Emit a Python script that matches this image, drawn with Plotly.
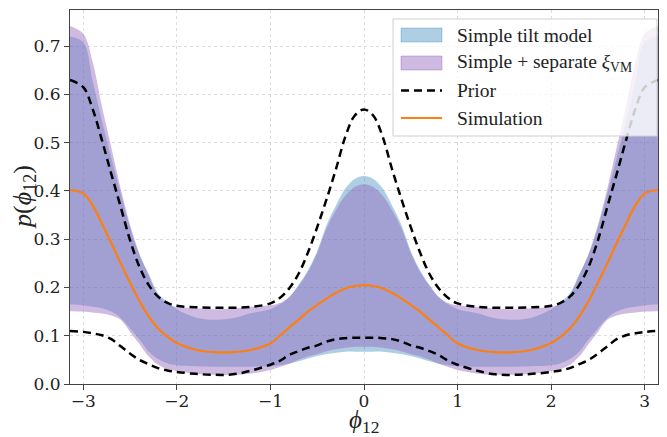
import math
import plotly.graph_objects as go

# x grid (left half; right half mirrors it)
x_left = [-math.pi, -3.0, -2.9, -2.8, -2.7, -2.6, -2.5, -2.4, -2.3, -2.2, -2.1, -2.0,
          -1.8, -1.6, -1.4, -1.2, -1.0, -0.9, -0.8, -0.7, -0.6, -0.5, -0.4, -0.3, -0.2, -0.1, 0.0]

prior_upper_l = [0.630, 0.615, 0.570, 0.505, 0.435, 0.367, 0.298, 0.243, 0.205, 0.181, 0.168, 0.162,
                 0.159, 0.158, 0.158, 0.160, 0.167, 0.178, 0.198, 0.228, 0.272, 0.325, 0.383, 0.445, 0.512, 0.556, 0.569]
prior_lower_l = [0.110, 0.108, 0.105, 0.101, 0.093, 0.078, 0.063, 0.050, 0.041, 0.033, 0.028, 0.025,
                 0.021, 0.019, 0.020, 0.028, 0.040, 0.048, 0.060, 0.068, 0.075, 0.080, 0.088, 0.093, 0.095, 0.096, 0.096]
sim_l = [0.402, 0.395, 0.370, 0.332, 0.292, 0.250, 0.210, 0.172, 0.140, 0.115, 0.098, 0.085,
         0.071, 0.066, 0.066, 0.071, 0.084, 0.100, 0.117, 0.133, 0.150, 0.164, 0.177, 0.189, 0.198, 0.203, 0.205]
blue_upper_l = [0.720, 0.708, 0.628, 0.545, 0.468, 0.395, 0.325, 0.268, 0.228, 0.188, 0.170, 0.155,
                0.138, 0.133, 0.136, 0.147, 0.155, 0.165, 0.180, 0.205, 0.235, 0.275, 0.330, 0.370, 0.405, 0.425, 0.431]
blue_lower_l = [0.165, 0.163, 0.160, 0.157, 0.150, 0.137, 0.115, 0.092, 0.067, 0.052, 0.043, 0.039,
                0.037, 0.036, 0.036, 0.036, 0.037, 0.039, 0.042, 0.047, 0.053, 0.058, 0.062, 0.065, 0.067, 0.067, 0.067]
purple_upper_l = [0.742, 0.726, 0.668, 0.575, 0.490, 0.405, 0.330, 0.270, 0.225, 0.184, 0.166, 0.160,
                  0.157, 0.155, 0.156, 0.160, 0.163, 0.168, 0.180, 0.203, 0.232, 0.272, 0.322, 0.360, 0.390, 0.408, 0.414]
purple_lower_l = [0.151, 0.150, 0.148, 0.146, 0.142, 0.133, 0.108, 0.083, 0.057, 0.040, 0.031, 0.027,
                  0.021, 0.019, 0.019, 0.022, 0.029, 0.035, 0.042, 0.050, 0.057, 0.062, 0.068, 0.072, 0.075, 0.077, 0.077]

x_ticks = [-3, -2, -1, 0, 1, 2, 3]
y_ticks = [0.0, 0.1, 0.2, 0.3, 0.4, 0.5, 0.6, 0.7]

legend_labels = ["Simple tilt model", "Simple + separate <i>ξ</i><sub>VM</sub>", "Prior", "Simulation"]


def full(left, sign=1.0):
    return left + [sign * v for v in left[-2::-1]]


x = full(x_left, -1.0)
prior_upper = full(prior_upper_l)
prior_lower = full(prior_lower_l)
sim = full(sim_l)
blue_upper = full(blue_upper_l)
blue_lower = full(blue_lower_l)
purple_upper = full(purple_upper_l)
purple_lower = full(purple_lower_l)

FONT = "serif"
TICK_FONT = "DejaVu Serif"
TXT = "#222"
blue_fill = "rgba(31,119,180,0.36)"
purple_fill = "rgba(148,103,189,0.45)"
ORANGE = "#ff7f0e"
DASH = "8px,5px"

fig = go.Figure()
fig.add_trace(go.Scatter(x=x, y=blue_lower, mode="lines", line=dict(width=0, shape="spline"),
                         showlegend=False, hoverinfo="skip"))
fig.add_trace(go.Scatter(x=x, y=blue_upper, mode="lines", line=dict(width=0, shape="spline"),
                         fill="tonexty", fillcolor=blue_fill, showlegend=False))
fig.add_trace(go.Scatter(x=x, y=purple_lower, mode="lines", line=dict(width=0, shape="spline"),
                         showlegend=False, hoverinfo="skip"))
fig.add_trace(go.Scatter(x=x, y=purple_upper, mode="lines", line=dict(width=0, shape="spline"),
                         fill="tonexty", fillcolor=purple_fill, showlegend=False))
fig.add_trace(go.Scatter(x=x, y=prior_upper, mode="lines",
                         line=dict(color="black", width=2.5, dash=DASH, shape="spline"),
                         showlegend=False))
fig.add_trace(go.Scatter(x=x, y=prior_lower, mode="lines",
                         line=dict(color="black", width=2.5, dash=DASH, shape="spline"),
                         showlegend=False))
fig.add_trace(go.Scatter(x=x, y=sim, mode="lines",
                         line=dict(color=ORANGE, width=2.2, shape="spline"),
                         showlegend=False))

W, H = 667, 437
L, R, T, B = 70, 9, 10, 53
PW, PH = W - L - R, H - T - B


def px(xp):
    return (xp - L) / PW


def py(yp):
    return (H - B - yp) / PH


shapes = []
annotations = []
shapes.append(dict(type="rect", xref="paper", yref="paper", x0=px(393), x1=px(657), y0=py(136), y1=py(19),
                   fillcolor="rgba(255,255,255,0.8)", line=dict(color="#d0d0d0", width=1), layer="above"))
rows = [35, 63, 90.5, 118]
shapes.append(dict(type="rect", xref="paper", yref="paper", x0=px(401), x1=px(442), y0=py(rows[0] + 7),
                   y1=py(rows[0] - 7), fillcolor=blue_fill, line=dict(color="rgba(31,119,180,0.3)", width=1),
                   layer="above"))
shapes.append(dict(type="rect", xref="paper", yref="paper", x0=px(401), x1=px(442), y0=py(rows[1] + 7),
                   y1=py(rows[1] - 7), fillcolor=purple_fill, line=dict(color="rgba(148,103,189,0.4)", width=1),
                   layer="above"))
shapes.append(dict(type="line", xref="paper", yref="paper", x0=px(401), x1=px(442), y0=py(rows[2]), y1=py(rows[2]),
                   line=dict(color="black", width=2.5, dash=DASH), layer="above"))
shapes.append(dict(type="line", xref="paper", yref="paper", x0=px(401), x1=px(442), y0=py(rows[3]), y1=py(rows[3]),
                   line=dict(color=ORANGE, width=2.2), layer="above"))
for r, lab in zip(rows, legend_labels):
    annotations.append(dict(xref="paper", yref="paper", x=px(455), y=py(r), text=lab, showarrow=False,
                            xanchor="left", yanchor="middle", font=dict(family=FONT, size=19.5, color=TXT)))

annotations.append(dict(xref="paper", yref="paper", x=0.5, y=py(421), text="<i>ϕ</i><sub>12</sub>",
                        showarrow=False, xanchor="center", yanchor="middle",
                        font=dict(family=FONT, size=25, color=TXT)))
annotations.append(dict(xref="paper", yref="paper", x=px(24), y=py(197), text="<i>p</i>(<i>ϕ</i><sub>12</sub>)",
                        showarrow=False, xanchor="center", yanchor="middle", textangle=-90,
                        font=dict(family=FONT, size=26, color=TXT)))

axis_common = dict(showline=True, linecolor="#444", linewidth=1, mirror=True,
                   ticks="outside", ticklen=5, tickcolor="#444", automargin=False,
                   showgrid=True, gridcolor="#dcdcdc", griddash="dot", gridwidth=1,
                   zeroline=False, tickfont=dict(family=TICK_FONT, size=17, color=TXT))

fig.update_layout(
    width=W, height=H,
    margin=dict(l=L, r=R, t=T, b=B),
    plot_bgcolor="white", paper_bgcolor="white",
    font=dict(family=FONT, color=TXT),
    xaxis=dict(range=[-math.pi, math.pi], tickvals=x_ticks, ticklabelstandoff=-3, **axis_common),
    yaxis=dict(range=[0, 0.775], tickvals=y_ticks, tickformat=".1f", **axis_common),
    shapes=shapes,
    annotations=annotations,
    showlegend=False,
)

fig.write_html("out.html", config={"displayModeBar": False},
               post_script="document.body.style.margin='0';document.body.style.padding='0';")
